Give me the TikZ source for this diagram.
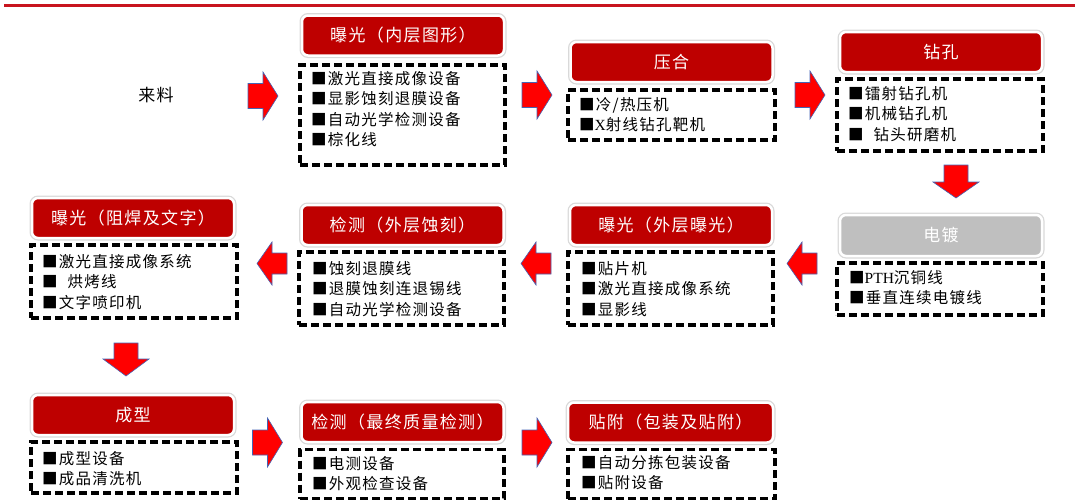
\documentclass[tikz,border=0pt]{standalone}
\usepackage{fontspec}
\setmainfont{Noto Sans CJK SC}
\newfontfamily\latinserif{Liberation Serif}
\definecolor{hdrred}{RGB}{190,0,0}
\definecolor{hdrgray}{RGB}{191,191,191}
\definecolor{topline}{RGB}{200,20,30}
\definecolor{arrred}{RGB}{255,0,0}
\definecolor{arredge}{RGB}{68,100,180}
\newcommand\hdrfont{\fontsize{17}{20}\selectfont\addfontfeatures{LetterSpace=8}}
\newcommand\itemfont{\fontsize{15.5}{20.5}\selectfont\addfontfeatures{LetterSpace=8}}
\tikzset{
 hdr/.style={rectangle, rounded corners=6pt, fill=hdrred, draw=white, line width=2.5pt,
   preaction={draw=black!15, line width=5pt}, minimum width=202pt, minimum height=40pt,
   text=white, font=\hdrfont, inner sep=0pt},
 dbox/.style={rectangle, draw=black, line width=3.1pt, dash pattern=on 8pt off 4pt, inner sep=0pt},
 items/.style={align=left, anchor=north west, inner sep=0pt, font=\itemfont},
 arrowshape/.style={fill=arrred, draw=arredge, line width=0.6pt, line join=miter},
}
% horizontal block arrow: cx, cy, dir(1 right,-1 left), head half height, shaft half height
\newcommand\harrow[5]{%
 \filldraw[arrowshape] ({#1-15*#3},{#2-#5}) -- (#1,{#2-#5}) -- (#1,{#2-#4}) -- ({#1+15*#3},#2)
   -- (#1,{#2+#4}) -- (#1,{#2+#5}) -- ({#1-15*#3},{#2+#5}) -- cycle;}
% downward block arrow: cx, top y, head base y, tip y
\newcommand\dnarrow[4]{%
 \filldraw[arrowshape] ({#1-12},#2) -- ({#1+12},#2) -- ({#1+12},#3) -- ({#1+23},#3) -- (#1,#4)
   -- ({#1-23},#3) -- ({#1-12},#3) -- cycle;}
\begin{document}
\begin{tikzpicture}[x=1pt,y=-1pt]
\useasboundingbox (0,0) rectangle (1075,501);
\draw[topline, line width=2.2pt] (4,5.5) -- (1075,5.5);

% source
\node[font=\hdrfont] (src) at (156,95) {来料};

% headers
\node[hdr] (h-in) at (403,35.5) {曝光（内层图形）};
\node[hdr] (h-press) at (671.5,62) {压合};
\node[hdr] (h-drill) at (941,52) {钻孔};
\node[hdr, fill=hdrgray, minimum height=41pt] (h-plate) at (941,235.5) {电镀};
\node[hdr] (h-outexp) at (671,225) {曝光（外层曝光）};
\node[hdr] (h-outetch) at (402.5,225) {检测（外层蚀刻）};
\node[hdr] (h-solder) at (133,218) {曝光（阻焊及文字）};
\node[hdr] (h-form) at (133,415) {成型};
\node[hdr] (h-final) at (402.5,422) {检测（最终质量检测）};
\node[hdr, minimum width=205pt] (h-pack) at (670.5,422.5) {贴附（包装及贴附）};

% dashed boxes
\node[dbox, minimum width=205pt, minimum height=100pt] (d-in) at (402.5,115) {};
\node[dbox, minimum width=207pt, minimum height=50pt] (d-press) at (671.5,115) {};
\node[dbox, minimum width=206pt, minimum height=72pt] (d-drill) at (940,115) {};
\node[dbox, minimum width=206pt, minimum height=52pt] (d-plate) at (940,289) {};
\node[dbox, minimum width=205pt, minimum height=73pt] (d-outexp) at (670.5,288.5) {};
\node[dbox, minimum width=205pt, minimum height=73pt] (d-outetch) at (401.5,288.5) {};
\node[dbox, minimum width=206pt, minimum height=73pt] (d-solder) at (134,281.5) {};
\node[dbox, minimum width=206pt, minimum height=51pt] (d-form) at (134,467.5) {};
\node[dbox, minimum width=204pt, minimum height=49pt] (d-final) at (402,474) {};
\node[dbox, minimum width=207pt, minimum height=49pt] (d-pack) at (671.5,474) {};

% item lists
\node[items] (i-in) at (311,71) {■激光直接成像设备\\■显影蚀刻退膜设备\\■自动光学检测设备\\■棕化线};
\node[items] (i-press) at (579,97) {■冷/热压机\\■{\latinserif X}射线钻孔靶机};
\node[items] (i-drill) at (848,86) {■镭射钻孔机\\■机械钻孔机\\■\hspace{10pt}钻头研磨机};
\node[items] (i-plate) at (849,270) {■{\latinserif PTH}沉铜线\\■垂直连续电镀线};
\node[items] (i-outexp) at (581,261) {■贴片机\\■激光直接成像系统\\■显影线};
\node[items] (i-outetch) at (312,261) {■蚀刻退膜线\\■退膜蚀刻连退锡线\\■自动光学检测设备};
\node[items] (i-solder) at (42,254) {■激光直接成像系统\\■\hspace{10pt}烘烤线\\■文字喷印机};
\node[items] (i-form) at (42,451) {■成型设备\\■成品清洗机};
\node[items] (i-final) at (312,456) {■电测设备\\■外观检查设备};
\node[items] (i-pack) at (581,455) {■自动分拣包装设备\\■贴附设备};

% arrows
\harrow{263}{96}{1}{24}{12.5}
\harrow{537}{95}{1}{24}{12.5}
\harrow{810}{95}{1}{24}{12.5}
\dnarrow{956}{165}{182}{198}
\harrow{802}{263.5}{-1}{21.5}{10.5}
\harrow{536}{263.5}{-1}{21.5}{10.5}
\harrow{272}{263.5}{-1}{21.5}{10.5}
\dnarrow{126}{343}{359}{376}
\harrow{267.5}{442.5}{1}{24.5}{12.5}
\harrow{537}{442.5}{1}{24.5}{12.5}
\end{tikzpicture}
\end{document}
